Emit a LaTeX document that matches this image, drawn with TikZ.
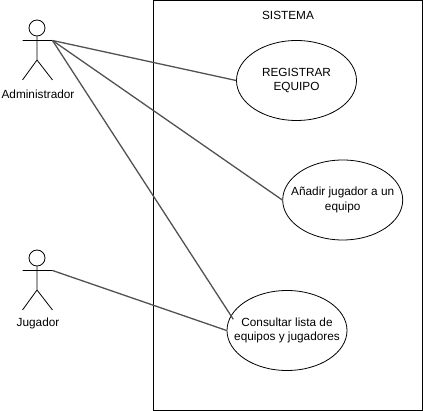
\documentclass[tikz,border=0pt]{standalone}
\usepackage{fontspec}
\setmainfont{Liberation Sans}
\usetikzlibrary{shapes.geometric}
\tikzset{
 usecase/.style={draw=black,ellipse,minimum width=120pt,minimum height=80pt,inner sep=0pt,line width=0.8pt,
   label={[align=center,font=\fontsize{11.8pt}{14.6pt}\selectfont,inner sep=0pt]center:#1}},
 lbl/.style={font=\fontsize{11.8pt}{14pt}\selectfont,inner sep=0pt},
 lnk/.style={draw=black!68,line width=1.3pt},
 act/.style={draw=black,line width=0.8pt},
 head/.style={draw=black,circle,minimum size=16pt,inner sep=0pt,line width=0.8pt}
}
\begin{document}
\begin{tikzpicture}[x=1pt,y=-1pt]
\useasboundingbox (0,0) rectangle (423,411);
\node[draw=black,line width=0.8pt,minimum width=269pt,minimum height=409.5pt,anchor=north west,inner sep=0pt] (sys) at (153,0.5) {};
\node[lbl] (title) at (288,15) {SISTEMA};
\node[usecase={REGISTRAR\\EQUIPO}] (uc1) at (296.5,80.5) {};
\node[usecase={Añadir jugador a un\\equipo}] (uc2) at (342.7,200) {};
\node[usecase={Consultar lista de\\equipos y jugadores}] (uc3) at (287,330.5) {};
\coordinate (e3) at (233.3,319.3);
\node[head] (h1) at (37,28) {};
\coordinate (w1) at (37,60);
\coordinate (la1) at (22.5,40.5);
\coordinate (ra1) at (52.5,40.5);
\coordinate (f1a) at (22.5,80);
\coordinate (f1b) at (52.5,80);
\draw[act] (h1.south) -- (w1) (la1) -- (ra1) (w1) -- (f1a) (w1) -- (f1b);
\node[lbl] (a1) at (38,94) {Administrador};
\node[head] (h2) at (37,258) {};
\coordinate (w2) at (37,290);
\coordinate (la2) at (22.5,270.5);
\coordinate (ra2) at (52.5,270.5);
\coordinate (f2a) at (22.5,310);
\coordinate (f2b) at (52.5,310);
\draw[act] (h2.south) -- (w2) (la2) -- (ra2) (w2) -- (f2a) (w2) -- (f2b);
\node[lbl] (a2) at (38,323) {Jugador};
\draw[lnk] (ra1) -- (uc1.west);
\draw[lnk] (ra1) -- (uc2.west);
\draw[lnk] (ra1) -- (e3);
\draw[lnk] (ra2) -- (uc3.west);
\end{tikzpicture}
\end{document}
